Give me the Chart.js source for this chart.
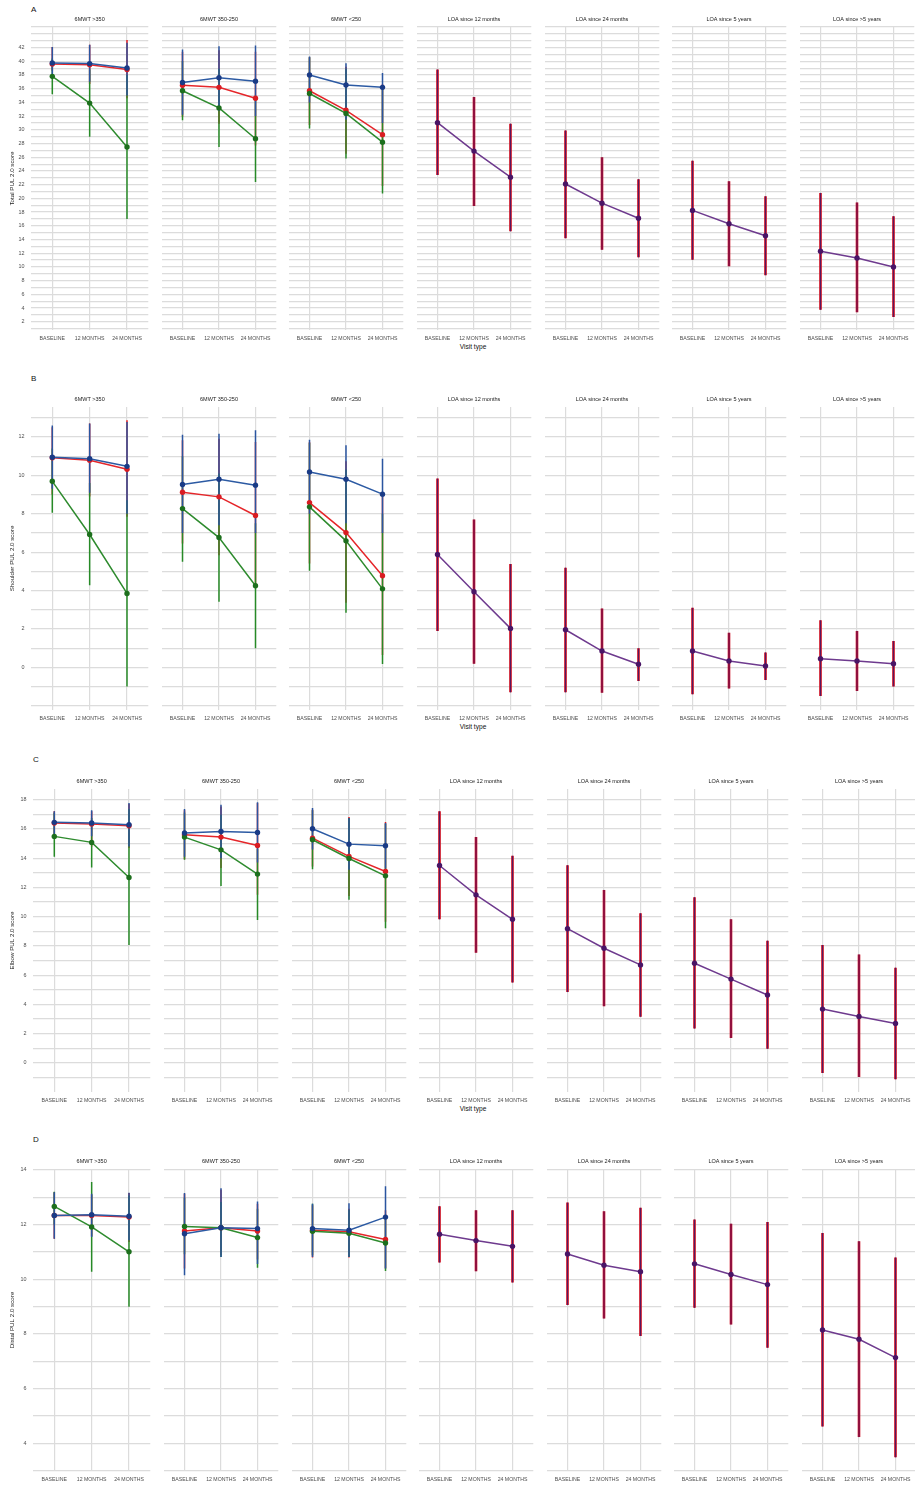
<!DOCTYPE html>
<html><head><meta charset="utf-8">
<script src="https://cdn.jsdelivr.net/npm/chart.js@4.4.1/dist/chart.umd.min.js"></script>
<style>
html,body{margin:0;padding:0;background:#fff;}
#wrap{position:relative;width:915px;height:1487px;overflow:hidden;background:#fff;font-family:"Liberation Sans",Arial,Helvetica,sans-serif;-webkit-font-smoothing:antialiased;}
canvas{position:absolute;}
.lbl{position:absolute;color:#111;white-space:nowrap;line-height:1;}
</style></head><body><div id="wrap"></div>
<script>
// ---------- categories / labels ----------
const categories = ['BASELINE', '12 MONTHS', '24 MONTHS'];
const panelTitles = ['6MWT >350', '6MWT 350-250', '6MWT <250', 'LOA since 12 months', 'LOA since 24 months', 'LOA since 5 years', 'LOA since >5 years'];
const yTitles = ['Total PUL 2.0 score', 'Shoulder PUL 2.0 score', 'Elbow PUL 2.0 score', 'Distal PUL 2.0 score'];
const rowLetters = ['A', 'B', 'C', 'D'];
const xAxisTitle = 'Visit type';
const yTicksTotal = [2,4,6,8,10,12,14,16,18,20,22,24,26,28,30,32,34,36,38,40,42];
const yTicksShoulder = [0,2,4,6,8,10,12];
const yTicksElbow = [0,2,4,6,8,10,12,14,16,18];
const yTicksDistal = [4,6,8,10,12,14];

// ---------- A: Total PUL 2.0 (3 6MWT panels: >350, 350-250, <250) ----------
const totalRedMean  = [[39.6, 39.5, 38.8], [36.5, 36.2, 34.6], [35.7, 32.85, 29.3]];
const totalRedLow   = [[38.6, 36.7, 34.6], [31.9, 30.9, 27.7], [30.7, 26.5, 21.8]];
const totalRedHigh  = [[42.1, 42.4, 43.1], [41.4, 41.6, 41.4], [40.6, 39.2, 36.7]];
const totalGreenMean = [[37.8, 33.9, 27.5], [35.7, 33.2, 28.7], [35.3, 32.4, 28.2]];
const totalGreenLow  = [[35.2, 29.0, 17.0], [31.4, 27.5, 22.4], [30.2, 25.8, 20.7]];
const totalGreenHigh = [[40.4, 38.8, 38.0], [40.05, 38.9, 34.8], [40.6, 38.9, 36.0]];
const totalBlueMean = [[39.76, 39.66, 39.03], [36.9, 37.6, 37.1], [38.0, 36.55, 36.2]];
const totalBlueLow  = [[37.4, 37.0, 35.0], [32.2, 32.8, 32.0], [34.0, 31.5, 31.0]];
const totalBlueHigh = [[42.1, 42.4, 42.7], [41.7, 42.2, 42.3], [40.7, 39.7, 38.3]];
// LOA panels: since 12 months, 24 months, 5 years, >5 years
const totalLoaMean = [[31.05, 26.9, 23.1], [22.1, 19.3, 17.1], [18.25, 16.3, 14.55], [12.3, 11.3, 10.0]];
const totalLoaLow  = [[23.4, 18.9, 15.2], [14.2, 12.5, 11.4], [11.05, 10.1, 8.8], [3.75, 3.4, 2.7]];
const totalLoaHigh = [[38.8, 34.8, 30.9], [29.9, 26.0, 22.8], [25.5, 22.5, 20.3], [20.8, 19.4, 17.4]];

// ---------- B: Shoulder PUL 2.0 ----------
const shoulderRedMean  = [[10.92, 10.79, 10.32], [9.12, 8.88, 7.91], [8.58, 7.02, 4.77]];
const shoulderRedLow   = [[9.0, 8.9, 7.84], [6.45, 5.84, 4.2], [5.41, 3.36, 0.64]];
const shoulderRedHigh  = [[12.5, 12.7, 12.87], [11.83, 11.9, 11.74], [11.74, 10.73, 8.97]];
const shoulderGreenMean = [[9.69, 6.92, 3.85], [8.27, 6.76, 4.25], [8.36, 6.59, 4.09]];
const shoulderGreenLow  = [[8.05, 4.28, -1.0], [5.5, 3.42, 1.0], [5.03, 2.84, 0.17]];
const shoulderGreenHigh = [[11.4, 9.6, 8.7], [11.0, 10.1, 7.5], [11.69, 10.3, 8.0]];
const shoulderBlueMean = [[10.94, 10.87, 10.47], [9.52, 9.8, 9.49], [10.18, 9.8, 9.02]];
const shoulderBlueLow  = [[9.3, 9.1, 8.0], [7.0, 7.4, 7.0], [8.0, 7.5, 7.0]];
const shoulderBlueHigh = [[12.6, 12.7, 12.78], [12.12, 12.17, 12.35], [11.86, 11.57, 10.87]];
const shoulderLoaMean = [[5.88, 3.94, 2.03], [1.96, 0.85, 0.16], [0.85, 0.33, 0.07], [0.45, 0.33, 0.19]];
const shoulderLoaLow  = [[1.9, 0.19, -1.3], [-1.3, -1.32, -0.71], [-1.4, -1.1, -0.66], [-1.49, -1.23, -0.99]];
const shoulderLoaHigh = [[9.83, 7.7, 5.38], [5.19, 3.06, 0.99], [3.1, 1.8, 0.78], [2.45, 1.9, 1.37]];

// ---------- C: Elbow PUL 2.0 ----------
const elbowRedMean  = [[16.4, 16.33, 16.22], [15.6, 15.44, 14.87], [15.37, 14.12, 13.09]];
const elbowRedLow   = [[15.53, 14.8, 14.69], [13.93, 13.32, 11.49], [13.43, 11.42, 9.66]];
const elbowRedHigh  = [[17.2, 17.2, 17.7], [17.27, 17.54, 17.77], [17.31, 16.81, 16.47]];
const elbowGreenMean = [[15.49, 15.08, 12.68], [15.44, 14.57, 12.91], [15.26, 13.98, 12.79]];
const elbowGreenLow  = [[14.1, 13.36, 8.06], [13.89, 12.1, 9.78], [13.25, 11.15, 9.21]];
const elbowGreenHigh = [[17.1, 16.74, 17.36], [17.13, 16.97, 14.62], [17.27, 16.74, 16.36]];
const elbowBlueMean = [[16.45, 16.4, 16.29], [15.72, 15.83, 15.76], [16.01, 14.96, 14.85]];
const elbowBlueLow  = [[15.6, 15.5, 14.8], [14.1, 14.0, 13.7], [14.6, 13.2, 13.3]];
const elbowBlueHigh = [[17.2, 17.27, 17.77], [17.36, 17.66, 17.82], [17.43, 16.74, 16.4]];
const elbowLoaMean = [[13.5, 11.49, 9.82], [9.18, 7.84, 6.7], [6.81, 5.73, 4.64], [3.68, 3.18, 2.7]];
const elbowLoaLow  = [[9.82, 7.54, 5.5], [4.84, 3.88, 3.15], [2.35, 1.71, 0.96], [-0.69, -0.96, -1.12]];
const elbowLoaHigh = [[17.2, 15.44, 14.16], [13.52, 11.83, 10.23], [11.33, 9.82, 8.36], [8.06, 7.42, 6.51]];

// ---------- D: Distal PUL 2.0 ----------
const distalRedMean  = [[12.33, 12.33, 12.27], [11.76, 11.88, 11.76], [11.79, 11.73, 11.45]];
const distalRedLow   = [[11.48, 11.57, 11.36], [10.39, 10.87, 10.72], [10.79, 10.79, 10.39]];
const distalRedHigh  = [[13.18, 13.1, 13.15], [13.12, 13.27, 12.76], [12.7, 12.58, 12.52]];
const distalGreenMean = [[12.66, 11.91, 11.0], [11.93, 11.88, 11.52], [11.75, 11.68, 11.32]];
const distalGreenLow  = [[12.0, 10.27, 8.99], [10.91, 10.81, 10.42], [10.87, 10.81, 10.3]];
const distalGreenHigh = [[13.2, 13.55, 13.06], [12.98, 12.82, 12.58], [12.76, 12.54, 12.27]];
const distalBlueMean = [[12.33, 12.36, 12.3], [11.66, 11.88, 11.85], [11.85, 11.79, 12.27]];
const distalBlueLow  = [[11.48, 11.54, 11.42], [10.14, 10.81, 10.55], [10.81, 10.81, 10.39]];
const distalBlueHigh = [[13.18, 13.12, 13.16], [13.15, 13.33, 12.84], [12.76, 12.78, 13.4]];
const distalLoaMean = [[11.64, 11.41, 11.2], [10.92, 10.51, 10.27], [10.56, 10.17, 9.8], [8.14, 7.8, 7.13]];
const distalLoaLow  = [[10.61, 10.29, 9.88], [9.05, 8.56, 7.92], [8.95, 8.34, 7.49], [4.61, 4.22, 3.48]];
const distalLoaHigh = [[12.67, 12.52, 12.52], [12.8, 12.48, 12.61], [12.18, 12.03, 12.09], [11.69, 11.39, 10.79]];

// ---------- styling / layout ----------
const FONT = '"Liberation Sans", Arial, Helvetica, sans-serif';
const GRID = '#dcdcdc';
const STYLE = {
  red:   { line: '#e5262a', point: '#d91c22', bar: '#e3191f' },
  green: { line: '#2e8b2e', point: '#1d6f1d', bar: '#278a27' },
  blue:  { line: '#2c5aa3', point: '#1a3b86', bar: '#2a55a0' },
  loa:   { line: '#6e3a8e', point: '#4a1566', bar: '#cc0a1e', core: '#3a1a6e' }
};
const rows = [
  { yTicks: yTicksTotal, yMin: 0.8, yMax: 45, top: 27, bottom: 330, left: 31.1, letterY: 10, visitY: 347,
    groups: { red: [totalRedMean, totalRedLow, totalRedHigh], green: [totalGreenMean, totalGreenLow, totalGreenHigh], blue: [totalBlueMean, totalBlueLow, totalBlueHigh] },
    loa: [totalLoaMean, totalLoaLow, totalLoaHigh] },
  { yTicks: yTicksShoulder, yMin: -2.22, yMax: 13.56, top: 407, bottom: 710, left: 31.1, letterY: 379, visitY: 727,
    groups: { red: [shoulderRedMean, shoulderRedLow, shoulderRedHigh], green: [shoulderGreenMean, shoulderGreenLow, shoulderGreenHigh], blue: [shoulderBlueMean, shoulderBlueLow, shoulderBlueHigh] },
    loa: [shoulderLoaMean, shoulderLoaLow, shoulderLoaHigh] },
  { yTicks: yTicksElbow, yMin: -1.99, yMax: 18.73, top: 789, bottom: 1092, left: 33.4, letterY: 760, visitY: 1109,
    groups: { red: [elbowRedMean, elbowRedLow, elbowRedHigh], green: [elbowGreenMean, elbowGreenLow, elbowGreenHigh], blue: [elbowBlueMean, elbowBlueLow, elbowBlueHigh] },
    loa: [elbowLoaMean, elbowLoaLow, elbowLoaHigh] },
  { yTicks: yTicksDistal, yMin: 2.98, yMax: 14.03, top: 1169, bottom: 1471, left: 33.4, letterY: 1140, visitY: null,
    groups: { red: [distalRedMean, distalRedLow, distalRedHigh], green: [distalGreenMean, distalGreenLow, distalGreenHigh], blue: [distalBlueMean, distalBlueLow, distalBlueHigh] },
    loa: [distalLoaMean, distalLoaLow, distalLoaHigh] }
];
const PITCH = 127.6, PW = 120, TITLE_H = 12, XAX_H = 14, XMIN = -0.57, XMAX = 2.57;

const wrap = document.getElementById('wrap');
function addLabel(text, x, y, size, opts) {
  const d = document.createElement('div');
  d.className = 'lbl';
  d.textContent = text;
  d.style.fontSize = size + 'px';
  d.style.top = (y - size / 2) + 'px';
  if (opts && opts.center) { d.style.left = x + 'px'; d.style.transform = 'translateX(-50%)'; }
  else d.style.left = x + 'px';
  wrap.appendChild(d);
}

// one vertical error-bar segment per visit, drawn as a 2-point line dataset
function errorSets(lows, highs, color, width, order) {
  return lows.map((lo, i) => ({ type: 'line', data: [{ x: i, y: lo }, { x: i, y: highs[i] }],
    borderColor: color, borderWidth: width, pointRadius: 0, pointHoverRadius: 0, borderCapStyle: 'butt',
    tension: 0, fill: false, order: order }));
}
function lineSet(values, st, order) {
  return { type: 'line', data: values.map((v, i) => ({ x: i, y: v })),
    borderColor: st.line, borderWidth: 1.5, pointRadius: 2.7, pointBackgroundColor: st.point,
    pointBorderWidth: 0, pointHoverRadius: 0, tension: 0, fill: false, order: order };
}

rows.forEach((row, r) => {
  addLabel(rowLetters[r], Math.round(row.left), row.letterY, 8);
  if (row.visitY !== null) addLabel(xAxisTitle, 473, row.visitY, 6.6, { center: true });
  const gridVals = [];
  for (let v = Math.ceil(row.yMin); v <= Math.floor(row.yMax); v++) gridVals.push(v);
  for (let p = 0; p < 7; p++) {
    const pLeft = Math.round(row.left + p * PITCH);
    const axisW = p === 0 ? pLeft : 0;
    const cLeft = p === 0 ? 0 : pLeft;
    const plotH = row.bottom - row.top;
    const W = axisW + PW, H = TITLE_H + plotH + XAX_H;
    const cv = document.createElement('canvas');
    cv.width = W; cv.height = H;
    cv.style.left = cLeft + 'px'; cv.style.top = (row.top - TITLE_H) + 'px';
    cv.style.width = W + 'px'; cv.style.height = H + 'px';
    wrap.appendChild(cv);

    const datasets = [];
    if (p < 3) {
      const order = ['red', 'green', 'blue'];
      order.forEach((g, k) => {
        const [m, lo, hi] = row.groups[g];
        datasets.push(...errorSets(lo[p], hi[p], STYLE[g].bar, 1.5, 30 - k));
      });
      order.forEach((g, k) => {
        const [m] = row.groups[g];
        datasets.push(lineSet(m[p], STYLE[g], 10 - k));
      });
    } else {
      const q = p - 3;
      const [m, lo, hi] = row.loa;
      datasets.push(...errorSets(lo[q], hi[q], STYLE.loa.bar, 2.6, 30));
      datasets.push(...errorSets(lo[q], hi[q], STYLE.loa.core, 0.8, 29));
      datasets.push(lineSet(m[q], STYLE.loa, 10));
    }

    new Chart(cv, {
      type: 'line',
      data: { datasets },
      options: {
        responsive: false, animation: false, devicePixelRatio: 1,
        layout: { padding: 0 },
        events: [],
        plugins: {
          legend: { display: false }, tooltip: { enabled: false },
          title: { display: true, text: panelTitles[p], fullSize: false, color: '#1a1a1a',
            font: { family: FONT, size: 5.5, weight: 'normal' }, padding: { top: 0.7, bottom: 4.7 } }
        },
        scales: {
          x: { type: 'linear', min: XMIN, max: XMAX,
            afterBuildTicks: s => { s.ticks = categories.map((_, i) => ({ value: i })); },
            afterFit: s => { s.height = XAX_H; },
            grid: { color: GRID, lineWidth: 1.2, drawTicks: false },
            border: { display: false },
            ticks: { callback: v => categories[v], font: { family: FONT, size: 5.2 }, color: '#4d4d4d',
              padding: 5, maxRotation: 0, minRotation: 0, autoSkip: false } },
          y: { type: 'linear', min: row.yMin, max: row.yMax,
            afterBuildTicks: s => { s.ticks = gridVals.map(v => ({ value: v })); },
            afterFit: s => { s.width = axisW; },
            grid: { color: GRID, lineWidth: 1.2, drawTicks: false },
            border: { display: false },
            ticks: { display: p === 0, callback: v => row.yTicks.includes(v) ? String(v) : '',
              font: { family: FONT, size: 5.4 }, color: '#4d4d4d', padding: 6.5, autoSkip: false },
            title: { display: p === 0, text: yTitles[r], color: '#1a1a1a',
              font: { family: FONT, size: 6.2 }, padding: { top: 8.5, bottom: 0 } } }
        }
      }
    });
  }
});
</script></body></html>
